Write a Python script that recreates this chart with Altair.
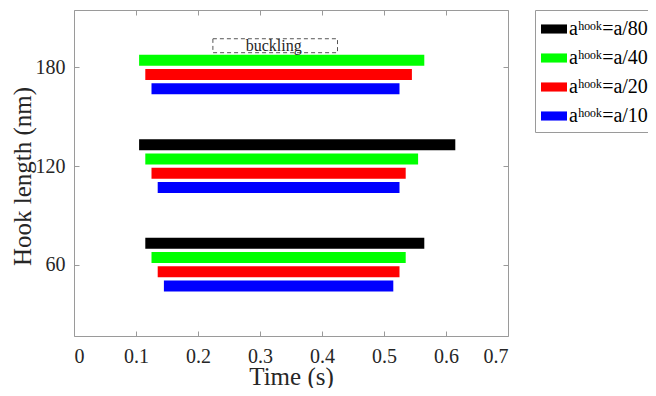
import altair as alt
import pandas as pd

# ---- data ----
hooks = [60, 120, 180]
series = ["aʰᵒᵒᵏ=a/80", "aʰᵒᵒᵏ=a/40", "aʰᵒᵒᵏ=a/20", "aʰᵒᵒᵏ=a/10"]
colors = ["#000000", "#00ff00", "#ff0000", "#0000ff"]

start_60 = [0.115, 0.125, 0.135, 0.145]
end_60 = [0.565, 0.535, 0.525, 0.515]
start_120 = [0.105, 0.115, 0.125, 0.135]
end_120 = [0.615, 0.555, 0.535, 0.525]
start_180 = [None, 0.105, 0.115, 0.125]
end_180 = [None, 0.565, 0.545, 0.525]

x_ticks = [0, 0.1, 0.2, 0.3, 0.4, 0.5, 0.6, 0.7]
y_ticks = [60, 120, 180]

note_text = ["buckling"]
note_x = [0.322]
note_y = [193]
note_box_x = [0.224]
note_box_x2 = [0.425]
note_box_y = [189.0]
note_box_y2 = [197.5]

# ---- build table ----
STEP = 8.67   # vertical slot spacing within a group (data units)
HALF = 3.35   # half bar thickness (data units)
starts = [start_60, start_120, start_180]
ends = [end_60, end_120, end_180]
rows = []
for h, st, en in zip(hooks, starts, ends):
    for k, s in enumerate(series):
        if st[k] is None:
            continue
        c = h + (1.5 - k) * STEP
        rows.append({"hook": h, "series": s, "start": st[k], "end": en[k],
                     "y0": c - HALF, "y1": c + HALF})
df = pd.DataFrame(rows)
note_df = pd.DataFrame({"text": note_text, "x": note_x, "y": note_y,
                        "bx": note_box_x, "bx2": note_box_x2,
                        "by": note_box_y, "by2": note_box_y2})

FONT = "Liberation Serif"
GRAY = "#9a9a9a"
TXT = "#262626"
W, H = 434, 326

xscale = alt.Scale(domain=[0, 0.7], nice=False, zero=False)
yscale = alt.Scale(domain=[16.5, 215], nice=False, zero=False)

x_bottom = alt.Axis(orient="bottom", values=x_ticks, format=".1~f", title="Time (s)",
                    offset=-5, tickSize=5, domain=False, grid=False, tickColor=GRAY,
                    labelPadding=10, labelFont=FONT, labelFontSize=20, labelColor=TXT,
                    titleFont=FONT, titleFontSize=25, titleFontWeight="normal", titleColor=TXT,
                    titleX=W / 2, titleY=53, titleBaseline="alphabetic")
y_left = alt.Axis(orient="left", values=y_ticks, title="Hook length (nm)",
                  offset=-5, tickSize=5, domain=False, grid=False, tickColor=GRAY,
                  labelPadding=9, labelFont=FONT, labelFontSize=20, labelColor=TXT,
                  titleFont=FONT, titleFontSize=25, titleFontWeight="normal", titleColor=TXT,
                  titleX=-49, titleY=166, titleBaseline="alphabetic")
x_top = alt.Axis(orient="top", values=x_ticks, labels=False, title=None, offset=-5,
                 tickSize=5, domain=False, grid=False, tickColor=GRAY)
y_right = alt.Axis(orient="right", values=y_ticks, labels=False, title=None, offset=-5,
                   tickSize=5, domain=False, grid=False, tickColor=GRAY)

legend = alt.Legend(title=None, orient="right", offset=26, padding=6, rowPadding=6,
                    strokeColor=GRAY, fillColor="white",
                    symbolType="M-1,-0.35H1V0.35H-1Z", symbolSize=676,
                    symbolStrokeWidth=0, symbolOpacity=1,
                    labelFont=FONT, labelFontSize=20, labelOffset=2, labelColor="black",
                    labelLimit=300)

bars = alt.Chart(df).mark_rect().encode(
    x=alt.X("start:Q", scale=xscale, axis=x_bottom),
    x2="end:Q",
    y=alt.Y("y0:Q", scale=yscale, axis=y_left),
    y2="y1:Q",
    color=alt.Color("series:N", scale=alt.Scale(domain=series, range=colors), legend=legend),
)

box = alt.Chart(note_df).mark_rect(fillOpacity=0, stroke="#555555", strokeWidth=1,
                                   strokeDash=[4, 3]).encode(
    x=alt.X("bx:Q", scale=xscale, axis=x_top),
    x2="bx2:Q",
    y=alt.Y("by:Q", scale=yscale, axis=y_right),
    y2="by2:Q",
)

label = alt.Chart(note_df).mark_text(font=FONT, fontSize=16, color=TXT,
                                     align="center", baseline="middle").encode(
    x=alt.X("x:Q", scale=xscale, axis=None),
    y=alt.Y("y:Q", scale=yscale, axis=None),
    text="text:N",
)

chart = alt.layer(bars, box, label).resolve_axis(
    x="independent", y="independent"
).properties(
    width=W, height=H,
    autosize=alt.AutoSizeParams(type="none"),
    padding={"left": 66, "top": 2, "right": 140, "bottom": 52},
).configure_view(stroke=GRAY, strokeWidth=1)

chart.save("out.html", embed_options={"renderer": "svg", "actions": False})
